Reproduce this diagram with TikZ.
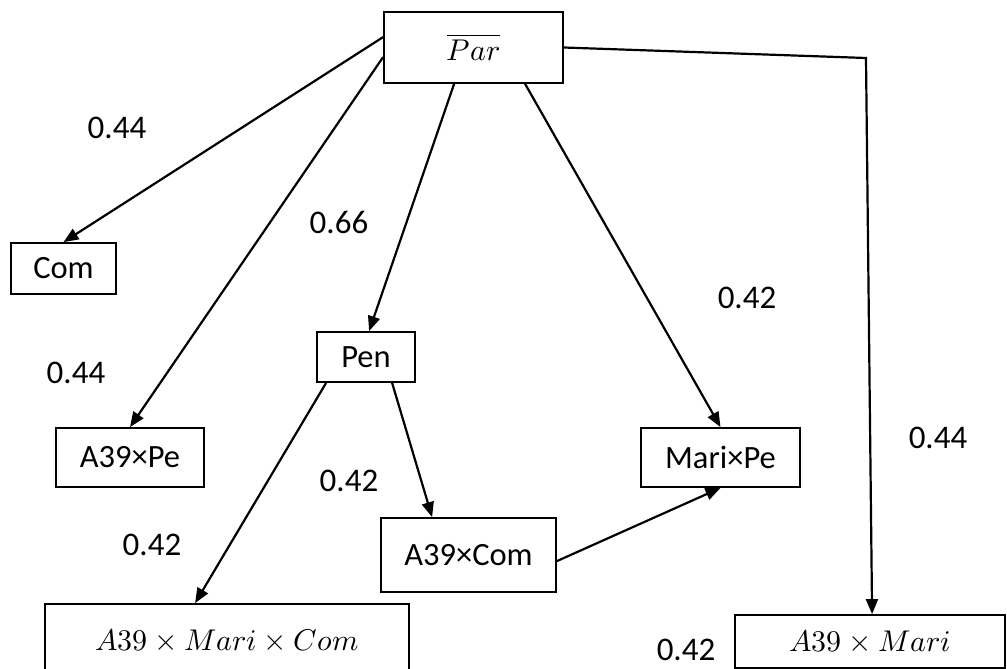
\documentclass[tikz,border=0pt]{standalone}
\usepackage{fontspec}
\usepackage{unicode-math}
\setmainfont{Carlito}
\setmathfont{Latin Modern Math}
\usetikzlibrary{arrows.meta}
\begin{document}
\begin{tikzpicture}[x=1pt,y=-1pt,
  box/.style={draw,line width=1.8pt,rectangle,inner sep=0pt,font=\fontsize{32.5}{38}\selectfont},
  lbl/.style={inner sep=0pt,font=\fontsize{33}{38}\selectfont},
  arr/.style={line width=2.2pt,-{Triangle[length=15pt,width=12pt]}}]
\useasboundingbox (0,0) rectangle (1007,669);
\clip (0,0) rectangle (1007,669);
\fill[white] (0,0) rectangle (1007,669);
% boxes
\node[box,minimum width=179pt,minimum height=71pt] (par) at (473.5,47.5) {\fontsize{30}{36}\selectfont$\overline{Par}$};
\node[box,minimum width=105pt,minimum height=51pt] (com) at (63.5,268.5) {Com};
\node[box,minimum width=98pt,minimum height=50pt] (pen) at (366,357) {Pen};
\node[box,minimum width=148pt,minimum height=59pt] (ape) at (130,457.5) {A39×Pe};
\node[box,minimum width=159pt,minimum height=59pt] (mpe) at (720.5,457.5) {Mari×Pe};
\node[box,minimum width=175pt,minimum height=74pt] (ac) at (468.5,555) {A39×Com};
\node[box,minimum width=364pt,minimum height=72pt] (amc) at (227,640) {\fontsize{30}{36}\selectfont$A39\times Mari\times Com$};
\node[box,minimum width=270pt,minimum height=53pt] (am) at (870,641.5) {\fontsize{30}{36}\selectfont$A39\times Mari$};
\coordinate (corner) at (866,58);
% connectors
\draw[arr] ([yshift=-26pt]par.north west) -- (com.north);
\draw[arr] ([yshift=-46pt]par.north west) -- (ape.north);
\draw[arr] ([xshift=71pt]par.south west) -- ([xshift=53pt]pen.north west);
\draw[arr] ([xshift=142pt]par.south west) -- (mpe.north);
\draw[arr] (par.east) -- (corner) -- ([xshift=138pt]am.north west);
\draw[arr] ([xshift=76pt]pen.south west) -- ([xshift=52pt]ac.north west);
\draw[arr] ([xshift=10pt]pen.south west) -- ([xshift=151pt]amc.north west);
\draw[arr] ([yshift=-44pt]ac.north east) -- (mpe.south);
% labels
\node[lbl] (l1) at (117,128) {0.44};
\node[lbl] (l2) at (339,222) {0.66};
\node[lbl] (l3) at (76,373) {0.44};
\node[lbl] (l4) at (747,298) {0.42};
\node[lbl] (l5) at (349,481) {0.42};
\node[lbl] (l6) at (152,545) {0.42};
\node[lbl] (l7) at (938,438) {0.44};
\node[lbl] (l8) at (686,650) {0.42};
\end{tikzpicture}
\end{document}
